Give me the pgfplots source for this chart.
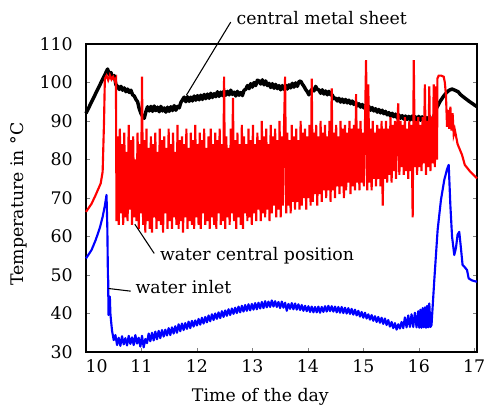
\documentclass[border=0pt]{standalone}
\usepackage{pgfplots}
\pgfplotsset{compat=1.18}
\usepackage{fontspec}
\setmainfont{DejaVu Serif}
\begin{document}
\fontsize{13}{15}\selectfont
\begin{tikzpicture}
\begin{axis}[
  scale only axis, width=293.25pt, height=231pt,
  xmin=10, xmax=17.05, ymin=30, ymax=110,
  xtick={10,11,12,13,14,15,16,17},
  xticklabels={\hspace*{16pt}10,11,12,13,14,15,16,17},
  ytick={30,40,50,60,70,80,90,100,110},
  tick align=inside, major tick length=3pt,
  xtick pos=bottom, ytick pos=both,
  axis line style={line width=0.8pt},
  /pgf/number format/assume math mode=true,
  yticklabel style={xshift=-5.5pt},
  xticklabel style={yshift=-1.5pt},
  xlabel={Time of the day}, ylabel={Temperature in °C},
  xlabel style={at={(axis description cs:0.446,-0.146)}, anchor=center},
  ylabel style={at={(axis description cs:-0.172,0.48)}, anchor=center},
  clip=false,
]
% black: central metal sheet
\addplot[black, line width=2.6pt, line join=round] table {
x y
10.00 92.0
10.39 103.5
10.42 102.0
10.45 102.6
10.48 101.2
10.51 101.8
10.54 99.4
10.57 99.0
10.60 98.2
10.63 99.0
10.66 98.0
10.69 98.6
10.72 97.6
10.75 98.3
10.78 97.4
10.81 98.0
10.84 96.8
10.87 96.5
10.90 95.6
10.93 95.0
10.96 93.2
10.99 92.0
11.02 91.2
11.05 90.7
11.08 92.4
11.11 93.7
11.14 92.6
11.17 93.8
11.20 92.5
11.23 93.9
11.26 92.7
11.29 93.6
11.32 92.4
11.35 93.8
11.38 92.6
11.41 93.4
11.44 92.3
11.47 93.6
11.50 92.5
11.53 93.7
11.56 92.7
11.59 94.0
11.62 92.8
11.65 93.8
11.68 93.4
11.71 94.8
11.74 95.5
11.77 96.2
11.80 95.0
11.83 96.3
11.86 95.1
11.89 96.2
11.92 95.2
11.95 96.5
11.98 95.4
12.01 96.6
12.04 95.5
12.07 96.7
12.10 95.6
12.13 96.9
12.16 95.8
12.19 97.0
12.22 95.9
12.25 97.2
12.28 96.1
12.31 97.1
12.34 96.3
12.37 97.6
12.40 96.4
12.43 97.5
12.46 96.6
12.49 97.8
12.52 96.7
12.55 97.7
12.58 96.8
12.61 98.0
12.64 96.9
12.67 97.5
12.70 96.5
12.73 97.7
12.76 96.7
12.79 97.4
12.82 96.6
12.85 98.0
12.88 98.2
12.91 99.2
12.94 98.4
12.97 99.7
13.00 98.8
13.03 100.0
13.06 99.2
13.09 100.6
13.12 100.4
13.15 99.6
13.18 100.7
13.21 99.4
13.24 100.4
13.27 99.2
13.30 99.8
13.33 98.7
13.36 99.7
13.39 98.5
13.42 99.5
13.45 98.4
13.48 99.2
13.51 98.1
13.54 99.2
13.57 98.2
13.60 99.3
13.63 98.3
13.66 99.4
13.69 98.6
13.72 99.8
13.75 98.8
13.78 99.9
13.81 99.0
13.84 100.2
13.87 100.4
13.90 99.6
13.93 99.0
13.96 98.2
13.99 97.6
14.02 96.8
14.05 97.8
14.08 98.3
14.11 97.8
14.14 99.0
14.17 98.2
14.20 98.1
14.23 97.2
14.26 98.1
14.29 97.0
14.32 97.8
14.35 96.8
14.38 97.7
14.41 96.8
14.44 96.8
14.47 95.8
14.50 96.0
14.53 95.2
14.56 95.9
14.59 94.9
14.62 95.7
14.65 94.8
14.68 95.6
14.71 94.7
14.74 95.4
14.77 94.5
14.80 95.2
14.83 94.3
14.86 94.9
14.89 93.9
14.92 94.5
14.95 93.6
14.98 94.3
15.01 93.4
15.04 94.1
15.07 93.2
15.10 93.8
15.13 92.8
15.16 93.5
15.19 92.6
15.22 93.2
15.25 92.3
15.28 93.0
15.31 92.1
15.34 92.8
15.37 91.9
15.40 92.5
15.43 91.6
15.46 92.2
15.49 91.3
15.52 92.0
15.55 91.1
15.58 91.8
15.61 90.8
15.64 91.6
15.67 90.7
15.70 91.4
15.73 90.5
15.76 91.3
15.79 90.4
15.82 91.2
15.85 90.3
15.88 91.3
15.91 90.2
15.94 91.1
15.97 90.3
16.00 91.2
16.03 90.2
16.06 91.1
16.09 90.1
16.12 91.0
16.15 90.0
16.18 91.0
16.21 90.1
16.24 90.5
16.28 91.5
16.32 93.3
16.38 95.0
16.44 96.3
16.50 97.4
16.55 98.0
16.60 98.3
16.65 98.0
16.71 97.6
16.75 96.9
16.80 96.3
16.90 95.2
17.00 94.2
17.05 93.7
};
% red: water central position
\addplot[red, line width=1.6pt] table {
x y
10.00 66.4
10.10 68.5
10.175 70.8
10.265 73.8
10.30 76.8
10.325 89.8
10.34 101.0
10.37 101.8
10.40 100.6
10.43 101.9
10.46 100.8
10.49 101.5
10.52 100.4
10.54 101.0
10.55 64
10.57 86
10.59 63
10.61 88
10.63 66
10.65 84
10.67 63
10.69 87
10.71 65
10.73 82
10.75 64
10.77 89
10.79 67
10.81 85
10.83 63
10.85 86
10.87 65
10.89 80
10.91 64
10.93 87
10.95 62
10.97 84
10.99 66
11.01 101.5
11.03 63
11.05 85
11.07 61
11.09 88
11.11 64
11.13 83
11.15 62
11.17 86
11.19 61
11.21 84
11.23 65
11.25 87
11.27 62
11.29 82
11.31 64
11.33 88
11.35 63
11.37 85
11.39 61
11.41 86
11.43 66
11.45 83
11.47 62
11.49 88
11.51 64
11.53 84
11.55 62
11.57 87
11.59 65
11.61 82
11.63 63
11.65 89
11.67 62
11.69 85
11.71 64
11.73 86
11.75 61
11.77 84
11.79 65
11.81 88
11.83 62
11.85 83
11.87 64
11.89 87
11.91 63
11.93 85
11.95 62
11.97 89
11.99 65
12.01 84
12.03 63
12.05 87
12.07 62
12.09 85
12.11 66
12.13 88
12.15 63
12.17 83
12.19 64
12.21 86
12.23 62
12.25 88
12.27 65
12.29 84
12.31 63
12.33 87
12.35 62
12.37 85
12.39 66
12.41 88
12.43 63
12.45 84
12.47 64
12.49 101.5
12.51 62
12.53 86
12.55 65
12.57 83
12.59 63
12.61 88
12.63 66
12.65 96
12.67 64
12.69 85
12.71 62
12.73 87
12.75 65
12.77 84
12.79 63
12.81 89
12.83 62
12.85 86
12.87 66
12.89 84
12.91 64
12.93 88
12.95 65
12.97 85
12.99 63
13.01 89
13.03 66
13.05 84
13.07 64
13.09 87
13.11 67
13.13 85
13.15 64
13.17 90
13.19 66
13.21 86
13.23 65
13.25 88
13.27 67
13.29 84
13.31 64
13.33 89
13.35 66
13.37 86
13.39 68
13.41 88
13.43 65
13.45 85
13.47 67
13.49 90
13.51 65
13.53 86
13.55 68
13.57 88
13.59 101.5
13.61 66
13.63 87
13.65 68
13.67 85
13.69 66
13.71 89
13.73 69
13.75 86
13.77 67
13.79 88
13.81 69
13.83 85
13.85 67
13.87 90
13.89 68
13.91 87
13.93 70
13.95 88
13.97 67
13.99 86
14.01 70
14.03 89
14.05 68
14.07 101
14.09 69
14.11 87
14.13 71
14.15 89
14.17 68
14.19 86
14.21 71
14.23 90
14.25 69
14.27 87
14.29 72
14.31 89
14.33 70
14.35 86
14.37 72
14.39 90
14.41 69
14.43 98.5
14.45 72
14.47 87
14.49 70
14.51 89
14.53 73
14.55 86
14.57 71
14.59 90
14.61 73
14.63 88
14.65 70
14.67 89
14.69 72
14.71 87
14.73 74
14.75 90
14.77 71
14.79 88
14.81 73
14.83 89
14.85 72
14.87 97
14.89 74
14.91 88
14.93 72
14.95 90
14.97 74
14.99 87
15.01 73
15.03 89
15.05 105.8
15.07 72
15.09 99.5
15.11 74
15.13 88
15.15 72
15.17 90
15.19 75
15.21 87
15.23 73
15.25 89
15.27 75
15.29 88
15.31 73
15.33 90
15.35 68
15.37 88
15.39 75
15.41 90
15.43 74
15.45 88
15.47 76
15.49 91
15.51 74
15.53 89
15.55 77
15.57 90
15.59 75
15.61 88
15.63 94.6
15.65 76
15.67 90
15.69 78
15.71 89
15.73 76
15.75 91
15.77 77
15.79 88
15.81 75
15.83 90
15.85 77
15.87 89
15.89 65
15.91 105.8
15.93 78
15.95 90
15.97 76
15.99 91
16.01 78
16.03 89
16.05 77
16.07 91
16.09 79
16.11 99.5
16.13 76
16.15 90
16.17 78
16.19 99
16.21 77
16.23 91
16.25 79
16.27 99.5
16.29 78
16.31 99
16.33 80
16.335 101
16.36 101.8
16.40 101.8
16.45 101.5
16.47 100
16.49 96.8
16.51 88.5
16.53 92.9
16.55 88
16.57 93.7
16.59 87.5
16.61 92
16.63 86.5
16.65 87.7
16.70 84
16.78 81.2
16.83 78.6
16.93 76.8
17.05 75.1
};
% blue: water inlet
\addplot[blue, line width=1.6pt, line join=round] table {
x y
10.00 54.3
10.10 56.5
10.175 59.1
10.25 62.3
10.30 65.1
10.34 68.0
10.37 70.8
10.385 62
10.395 50
10.40 48.7
10.405 39.6
10.415 42
10.43 44.4
10.44 40
10.45 38.3
10.47 35.5
10.50 33.1
10.53 34.4
10.56 31.8
10.59 33.7
10.62 31.6
10.65 34.1
10.68 32.0
10.71 33.6
10.74 31.7
10.77 34.2
10.80 32.1
10.83 33.8
10.86 31.8
10.89 34.4
10.92 32.2
10.95 33.7
10.98 31.4
11.01 34.2
11.04 31.2
11.07 33.4
11.10 32.3
11.13 34.8
11.16 32.8
11.19 35.0
11.22 33.0
11.25 35.3
11.28 33.3
11.31 35.5
11.34 33.6
11.37 35.7
11.40 34.0
11.43 35.8
11.46 34.3
11.49 36.2
11.52 34.4
11.55 36.4
11.58 34.8
11.61 36.7
11.64 35.0
11.67 37.2
11.70 35.4
11.73 37.4
11.76 35.7
11.79 37.5
11.82 36.0
11.85 37.9
11.88 36.2
11.91 38.1
11.94 36.6
11.97 38.2
12.00 36.9
12.03 38.6
12.06 37.1
12.09 38.9
12.12 37.4
12.15 39.1
12.18 37.7
12.21 39.5
12.24 38.0
12.27 39.8
12.30 38.3
12.33 40.0
12.36 38.6
12.39 40.3
12.42 38.8
12.45 40.6
12.48 39.1
12.51 40.8
12.54 39.4
12.57 41.1
12.60 39.6
12.63 41.3
12.66 39.9
12.69 41.5
12.72 40.1
12.75 41.8
12.78 40.3
12.81 42.0
12.84 40.5
12.87 42.2
12.90 40.7
12.93 42.4
12.96 40.8
12.99 42.5
13.02 41.0
13.05 42.7
13.08 41.1
13.11 42.8
13.14 41.3
13.17 43.0
13.20 41.4
13.23 43.2
13.26 41.6
13.29 43.1
13.32 41.7
13.35 43.4
13.38 41.8
13.41 43.2
13.44 41.7
13.47 43.0
13.50 41.4
13.53 43.1
13.56 41.5
13.59 42.8
13.62 40.7
13.65 42.5
13.68 41.2
13.71 42.7
13.74 41.1
13.77 42.6
13.80 41.0
13.83 42.4
13.86 40.9
13.89 42.2
13.92 40.7
13.95 42.0
13.98 40.6
14.01 41.9
14.04 40.4
14.07 41.8
14.10 40.3
14.13 41.7
14.16 40.3
14.19 41.8
14.22 40.2
14.25 41.7
14.28 40.4
14.31 41.9
14.34 40.5
14.37 42.0
14.40 40.6
14.43 41.9
14.46 40.5
14.49 41.8
14.52 40.3
14.55 41.7
14.58 40.2
14.61 41.7
14.64 40.1
14.67 41.5
14.70 40.0
14.73 41.4
14.76 39.9
14.79 41.2
14.82 39.7
14.85 41.0
14.88 39.5
14.91 40.7
14.94 39.2
14.97 40.4
15.00 38.9
15.03 40.2
15.06 38.7
15.09 39.8
15.12 38.4
15.15 39.6
15.18 38.1
15.21 39.3
15.24 37.8
15.27 39.1
15.30 37.6
15.33 38.9
15.36 37.3
15.39 38.7
15.42 37.0
15.45 38.3
15.48 36.6
15.51 37.8
15.54 36.2
15.57 37.5
15.60 35.8
15.63 37.2
15.66 36.1
15.69 37.8
15.72 36.2
15.75 39.0
15.78 36.4
15.81 39.5
15.84 36.5
15.87 39.8
15.90 36.5
15.93 40.2
15.96 36.4
15.99 40.6
16.01 36.3
16.03 41.0
16.05 36.3
16.07 41.4
16.09 36.4
16.11 41.6
16.13 36.3
16.15 42.0
16.17 36.4
16.19 42.6
16.21 36.5
16.23 37.0
16.28 48.7
16.34 61.7
16.40 69.5
16.46 74.7
16.51 77.5
16.54 78.6
16.57 68
16.60 60
16.64 55.2
16.67 57.0
16.70 60.5
16.73 61.2
16.76 57.0
16.79 52.6
16.83 52.0
16.87 51.3
16.90 49.1
16.96 48.6
17.03 48.3
17.05 48.3
};
% annotations
\draw[black, line width=0.8pt] (axis cs:11.81,96.7) -- (axis cs:12.61,115.7);
\node[anchor=west, inner sep=0pt] at (axis cs:12.71,116.7) {central metal sheet};
\draw[black, line width=0.8pt] (axis cs:10.88,63.2) -- (axis cs:11.23,55.6);
\node[anchor=west, inner sep=0pt] at (axis cs:11.33,54.9) {water central position};
\draw[black, line width=0.8pt] (axis cs:10.404,46.5) -- (axis cs:10.807,45.8);
\node[anchor=west, inner sep=0pt] at (axis cs:10.89,46.9) {water inlet};
\end{axis}
\pgfresetboundingbox
\path (-64.5pt,-43.5pt) rectangle (298.5pt,264pt);
\end{tikzpicture}
\end{document}
